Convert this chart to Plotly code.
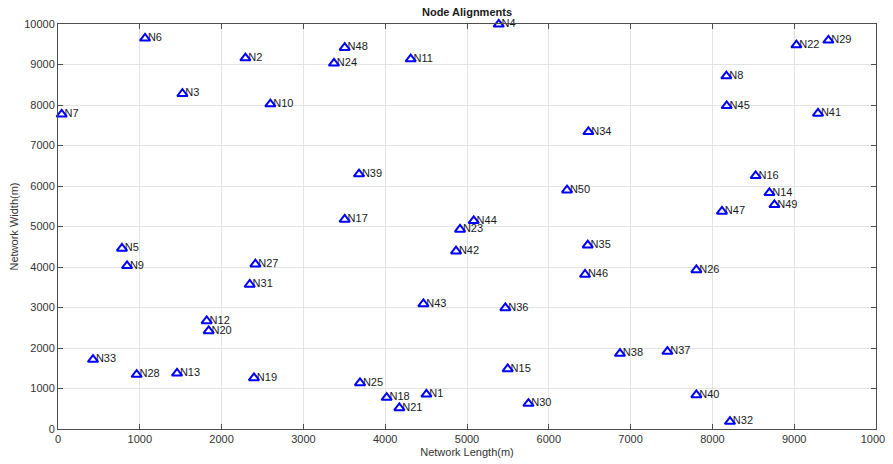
import plotly.graph_objects as go

node_names = [f"N{i}" for i in range(1, 51)]
node_x = [4504, 2291, 1521, 5388, 782, 1064, 45, 8171, 844, 2596,
          4312, 1818, 1455, 8697, 5498, 8529, 3505, 4018, 2396, 1842,
          4173, 9027, 4915, 3374, 3692, 7804, 2413, 962, 9418, 5751,
          2344, 8215, 428, 6484, 6476, 5469, 7450, 6870, 3680, 7804,
          9291, 4866, 4467, 5082, 8175, 6443, 8117, 3505, 8758, 6223]
node_y = [857, 9160, 8278, 9993, 4458, 9647, 7769, 8715, 4028, 8023,
          9135, 2669, 1376, 5832, 1483, 6252, 5174, 776, 1260, 2422,
          519, 9481, 4927, 9029, 1137, 3929, 4070, 1344, 9597, 628,
          3568, 183, 1715, 7339, 4539, 2990, 1912, 1863, 6294, 840,
          7793, 4391, 3089, 5140, 7981, 3815, 5372, 9415, 5535, 5898]

tick_vals = list(range(0, 10001, 1000))
tick_text = [str(v) for v in tick_vals]

font_family = "Liberation Sans, Arial, sans-serif"

fig = go.Figure()
fig.add_trace(go.Scatter(
    x=node_x, y=node_y, text=node_names,
    mode="markers+text",
    textposition="middle right",
    marker=dict(size=3, color="rgba(0,0,0,0)", line=dict(width=0)),
    textfont=dict(family=font_family, size=11, color="#1a1a1a"),
    cliponaxis=False,
    hoverinfo="skip",
    showlegend=False,
))
fig.add_trace(go.Scatter(
    x=node_x, y=node_y,
    mode="markers",
    marker=dict(symbol="triangle-up-open", size=9, color="#0000ff",
                line=dict(width=2, color="#0000ff")),
    cliponaxis=False,
    showlegend=False,
))

axis_common = dict(
    range=[0, 10000], tickvals=tick_vals, ticktext=tick_text, showgrid=True,
    gridcolor="#e3e3e3", gridwidth=1, zeroline=False, automargin=False,
    showline=True, linecolor="#4d4d4d", linewidth=1, mirror="ticks",
    ticks="inside", ticklen=5, tickcolor="#4d4d4d",
    tickfont=dict(family=font_family, size=11, color="#333333"),
)

fig.update_layout(
    width=885, height=456,
    margin=dict(l=50, r=17, t=16, b=35),
    paper_bgcolor="white", plot_bgcolor="white",
    title=dict(text="<b>Node Alignments</b>", x=0.5, xref="paper",
               y=1 - 4 / 456, yanchor="middle", automargin=False,
               font=dict(family=font_family, size=11, color="#1a1a1a")),
    xaxis=dict(**axis_common,
               title=dict(text="Network Length(m)", standoff=4,
                          font=dict(family=font_family, size=11, color="#333333"))),
    yaxis=dict(**axis_common,
               title=dict(text="Network Width(m)", standoff=6,
                          font=dict(family=font_family, size=11, color="#333333"))),
)

fig.write_html("out.html")
